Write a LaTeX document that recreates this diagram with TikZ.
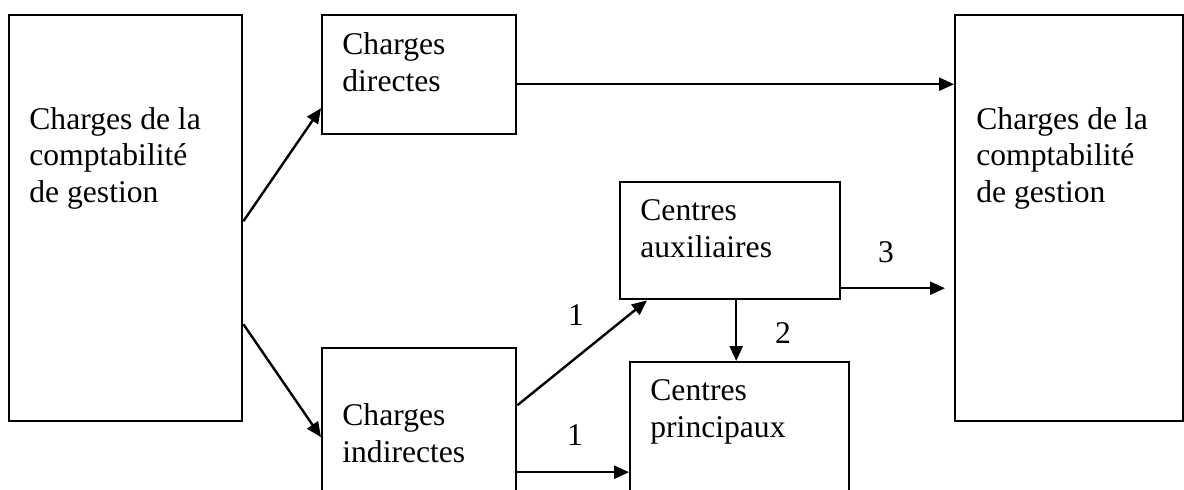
\documentclass[tikz,border=0pt]{standalone}
\usepackage{fontspec}
\setmainfont{Liberation Serif}
\usepackage{tikz}
\usetikzlibrary{arrows.meta,positioning}

\begin{document}
\begin{tikzpicture}[x=0.5pt, y=-0.5pt,
    font=\fontsize{15.8}{18.25}\selectfont,
    boite/.style={draw, line width=1.2pt, anchor=north west, inner sep=0pt},
    texte/.style={anchor=north west, inner sep=0pt, align=left},
    num/.style={anchor=base, inner sep=0pt},
    fleche/.style={line width=1.2pt, -{Triangle[length=7.5pt, width=6.5pt]}}]
    \useasboundingbox (0,0) rectangle (1184,489);
    \clip (0,0) rectangle (1184,489);
    % boites
    \node[boite, minimum width=116.5pt, minimum height=203pt] (cdl) at (8,14) {};
    \node[boite, minimum width=97pt, minimum height=59.5pt] (dir) at (321,14) {};
    \node[boite, minimum width=97pt, minimum height=91.5pt] (ind) at (321,347) {};
    \node[boite, minimum width=110pt, minimum height=58.5pt] (aux) at (619,181) {};
    \node[boite, minimum width=109.5pt, minimum height=84.5pt] (pri) at (629,361) {};
    \node[boite, minimum width=114pt, minimum height=203pt] (cdr) at (954,14) {};
    % textes
    \node[texte] (tcdl) at (29,107) {Charges de la\\comptabilité\\de gestion};
    \node[texte] (tdir) at (342,32.5) {Charges\\directes};
    \node[texte] (tind) at (342,403.5) {Charges\\indirectes};
    \node[texte] (taux) at (640,199.5) {Centres\\auxiliaires};
    \node[texte] (tpri) at (650,379.5) {Centres\\principaux};
    \node[texte] (tcdr) at (976,107) {Charges de la\\comptabilité\\de gestion};
    % fleches
    \coordinate (d1) at ([yshift=-4.75pt]dir.east);
    \coordinate (i1) at ([yshift=-16.25pt]ind.east);
    \coordinate (a2) at ([xshift=3pt]aux.south);
    \coordinate (a3) at ([yshift=-23.75pt]aux.east);
    \draw[fleche] ([yshift=-1.5pt]cdl.east) -- ([yshift=-16.75pt]dir.west);
    \draw[fleche] ([yshift=-53pt]cdl.east) -- ([yshift=1.25pt]ind.west);
    \draw[fleche] (d1) -- (d1 -| cdr.west);
    \draw[fleche] ([yshift=17.25pt]ind.east) -- ([xshift=14pt]aux.south west);
    \draw[fleche] (i1) -- (i1 -| pri.west);
    \draw[fleche] (a2) -- (a2 |- pri.north);
    \draw[fleche, shorten >=4.5pt] (a3) -- (a3 -| cdr.west);
    % numeros
    \node[num] (n1a) at (576,325) {1};
    \node[num] (n1b) at (575,445) {1};
    \node[num] (n2) at (783,343) {2};
    \node[num] (n3) at (886,262) {3};
  \end{tikzpicture}
\end{document}
